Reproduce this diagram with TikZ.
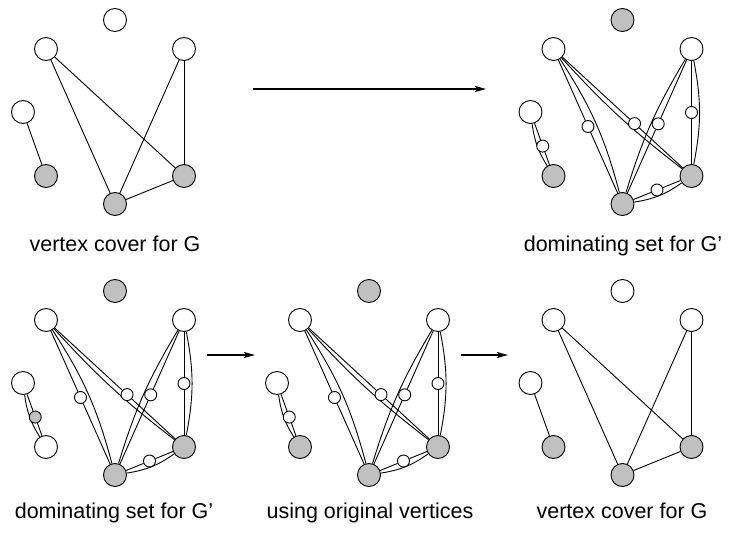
\documentclass[tikz,border=0pt]{standalone}
\usepackage{fontspec}
\setmainfont{Liberation Sans}
\usetikzlibrary{arrows.meta}
\definecolor{VGris}{RGB}{192,192,192}

\begin{document}
\begin{tikzpicture}[
  x=1pt,y=1pt,
  vertice/.style={circle,draw,line width=0.9pt,fill=white,minimum size=23pt,inner sep=0pt},
  nuevo/.style={circle,draw,line width=0.9pt,fill=white,minimum size=12pt,inner sep=0pt},
  arista/.style={line width=0.9pt},
  flecha/.style={-{Stealth[length=11pt,width=6pt,inset=2pt]},line width=1.1pt},
  etiqueta/.style={font=\fontsize{21.5}{25}\selectfont,inner sep=0pt,anchor=base}
]
\useasboundingbox (0,0) rectangle (737,-535);
% vertices of the five copies
\foreach \g/\dx/\dy/\ct/\cbl in {1/0/0/white/VGris,2/507.5/0/VGris/VGris,3/0/271/VGris/white,
  4/254/271/VGris/VGris,5/507.5/271/white/VGris}
{
  \begin{scope}[shift={(\dx,-\dy)}]
    \node[vertice,fill=\ct] (t\g) at (115,-20) {};
    \node[vertice] (ul\g) at (46,-49) {};
    \node[vertice] (ur\g) at (184,-49) {};
    \node[vertice] (l\g) at (23,-112) {};
    \node[vertice,fill=\cbl] (bl\g) at (46,-176) {};
    \node[vertice,fill=VGris] (b\g) at (115,-204) {};
    \node[vertice,fill=VGris] (r\g) at (184,-176) {};
  \end{scope}
}
% G: plain edges
\foreach \g in {1,5}
  \foreach \a/\b in {ul/b,ul/r,ur/b,ur/r,b/r,l/bl}
    \draw[arista] (\a\g) -- (\b\g);
% G': every edge keeps its copy and gets a new vertex
\foreach \g/\cwl in {2/white,3/VGris,4/white}
  \foreach \a/\b/\p/\lado/\ang/\cw in {l/bl/.55/right/12/\cwl,ul/b/.5/left/9/white,ul/r/.6/right/5/white,
    ur/b/.48/right/7/white,ur/r/.5/left/11/white,b/r/.5/right/13/white}
  {
    \draw[arista] (\a\g) to[bend \lado=\ang] (\b\g);
    \path (\a\g) -- node[nuevo,fill=\cw,pos=\p] (w\a\b\g) {} (\b\g);
    \draw[arista] (\a\g) -- (w\a\b\g) -- (\b\g);
  }
% arrows
\coordinate (s1) at (253,-89);
\coordinate (e1) at (486,-89);
\coordinate (s2) at (207,-355);
\coordinate (e2) at (255,-355);
\coordinate (s3) at (461,-355);
\coordinate (e3) at (508,-355);
\foreach \i in {1,2,3}
  \draw[flecha] (s\i) -- (e\i);
% captions
\node[etiqueta] (c1) at (115,-251) {vertex cover for G};
\node[etiqueta] (c2) at (623,-251) {dominating set for G'};
\node[etiqueta] (c3) at (114,-518) {dominating set for G'};
\node[etiqueta] (c4) at (370,-518) {using original vertices};
\node[etiqueta] (c5) at (622,-518) {vertex cover for G};
\end{tikzpicture}
\end{document}
